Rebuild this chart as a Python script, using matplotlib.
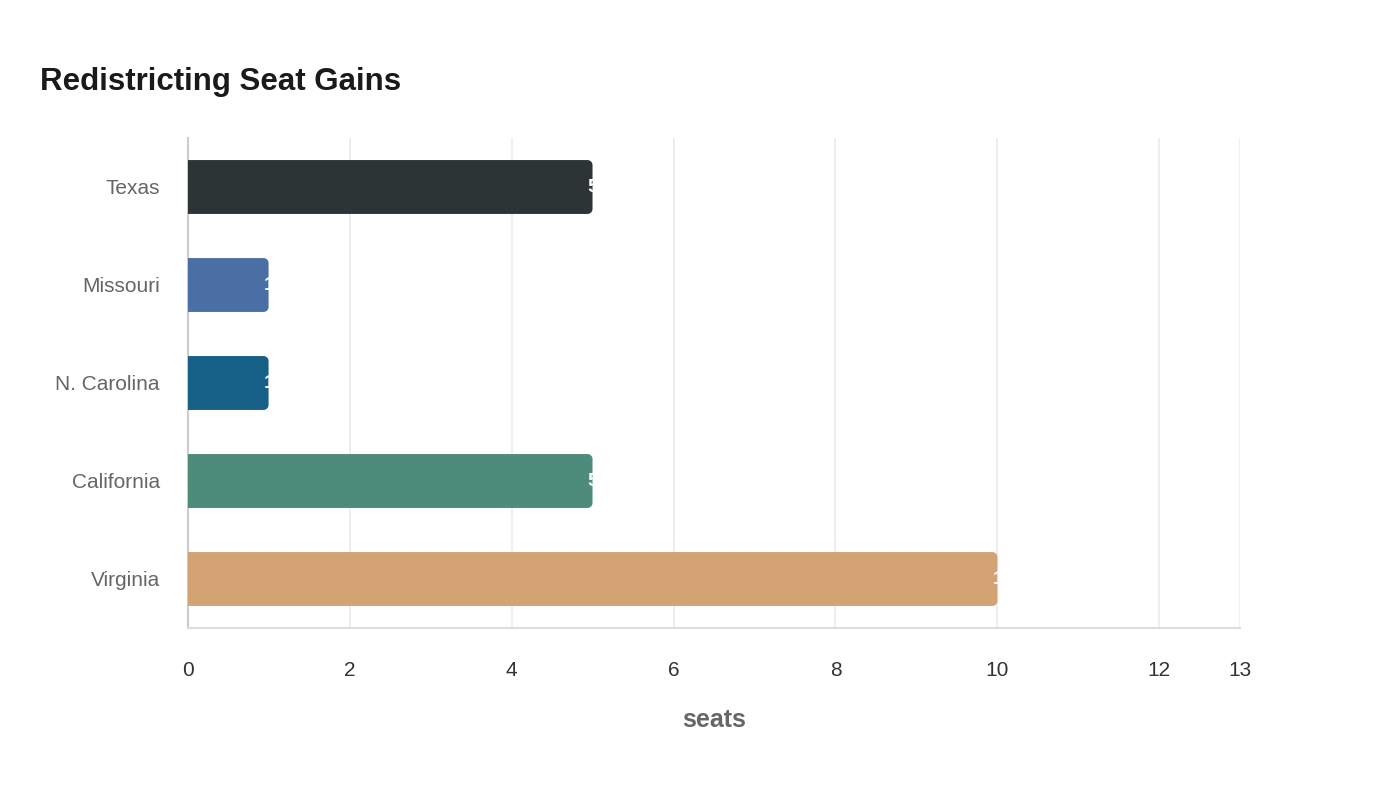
import matplotlib
matplotlib.use("Agg")
import matplotlib.pyplot as plt
from matplotlib.path import Path
from matplotlib.patches import PathPatch
from matplotlib.transforms import offset_copy

states = ["Texas", "Missouri", "N. Carolina", "California", "Virginia"]
seats = [5, 1, 1, 5, 10]
colors = ["#2d3436", "#4a6fa5", "#166088", "#4d8b7a", "#d4a373"]
x_ticks = [0, 2, 4, 6, 8, 10, 12, 13]

plt.rcParams["font.family"] = ["Liberation Sans", "DejaVu Sans"]

fig = plt.figure(figsize=(14, 8), dpi=100)
ax = fig.add_axes([0.134, 0.215, 0.752, 0.6125])

ax.set_xlim(0, 13)
ax.set_ylim(4.5, -0.5)

bar_h = 0.55
# corner radius in data units (about 5 px)
rx = 5 * 13 / 1052
ry = 5 * 5 / 490


def rounded_bar(y, w):
    """Bar path with rounded right corners."""
    y0, y1 = y - bar_h / 2, y + bar_h / 2
    k = 0.55
    verts = [
        (0, y0),
        (w - rx, y0),
        (w - rx + rx * k, y0), (w, y0 + ry - ry * k), (w, y0 + ry),
        (w, y1 - ry),
        (w, y1 - ry + ry * k), (w - rx + rx * k, y1), (w - rx, y1),
        (0, y1),
        (0, y0),
    ]
    codes = [Path.MOVETO, Path.LINETO,
             Path.CURVE4, Path.CURVE4, Path.CURVE4,
             Path.LINETO,
             Path.CURVE4, Path.CURVE4, Path.CURVE4,
             Path.LINETO, Path.CLOSEPOLY]
    return Path(verts, codes)


for i, (v, c) in enumerate(zip(seats, colors)):
    ax.add_patch(PathPatch(rounded_bar(i, v), facecolor=c, edgecolor="none", zorder=3))

# value labels (white, starting just inside the bar end)
trans = offset_copy(ax.transData, fig=fig, x=-5, y=0, units="dots")
for i, v in enumerate(seats):
    ax.text(v, i, str(v), transform=trans, ha="left", va="center",
            color="white", fontsize=14, fontweight="bold", zorder=4)

ax.set_yticks(range(len(states)))
ax.set_yticklabels(states, fontsize=15, color="#666666")
ax.set_xticks(x_ticks)
ax.set_xticklabels([str(t) for t in x_ticks], fontsize=15, color="#333333")
ax.tick_params(axis="y", length=0, pad=20)
ax.tick_params(axis="x", length=0, pad=24)

ax.grid(axis="x", color="#ebebeb", linewidth=1.2, zorder=0)
ax.set_axisbelow(True)
for s in ["top", "right"]:
    ax.spines[s].set_visible(False)
ax.spines["left"].set_color("#cccccc")
ax.spines["bottom"].set_color("#dddddd")
ax.spines["left"].set_linewidth(1.5)
ax.spines["bottom"].set_linewidth(1.5)

ax.set_xlabel("seats", fontsize=18, fontweight="bold", color="#666666", labelpad=20)

fig.text(40 / 1400, 1 - 82 / 800, "Redistricting Seat Gains", fontsize=22.5,
         fontweight="bold", color="#1a1a1a", ha="left", va="center")

fig.savefig("out.png", dpi=100)
